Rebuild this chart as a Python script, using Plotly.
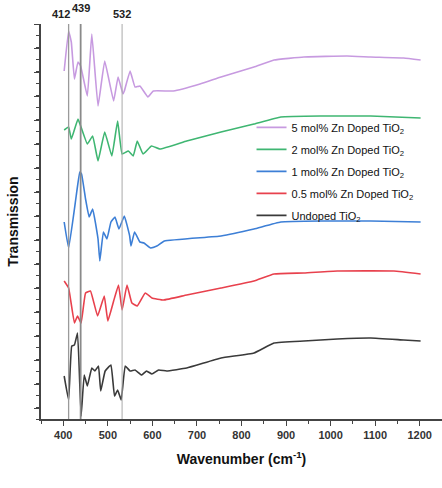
import plotly.graph_objects as go

# ---- data (arbitrary transmission units, offset stacked) ----
x_5 = [402, 412, 418, 425, 433, 439, 454, 464, 478, 493, 513, 523, 534, 537, 550, 561, 572, 590, 602, 647, 707, 754, 828, 873, 940, 1037, 1090, 1164, 1202]
y_5 = [348, 388, 377, 340, 357, 353, 323, 385, 313, 358, 318, 342, 325, 328, 348, 332, 333, 322, 328, 328, 335, 342, 352, 359, 362, 363, 362, 361, 359]

x_2 = [402, 412, 418, 433, 439, 454, 466, 478, 493, 509, 522, 532, 546, 557, 566, 579, 598, 617, 677, 754, 828, 888, 977, 1090, 1202]
y_2 = [289, 292, 280, 300, 293, 275, 283, 258, 287, 263, 298, 265, 268, 263, 278, 265, 273, 270, 278, 287, 295, 302, 303, 303, 301]

x_1 = [402, 412, 429, 437, 441, 450, 458, 466, 478, 482, 490, 498, 507, 516, 525, 537, 549, 552, 560, 572, 581, 596, 610, 627, 754, 828, 888, 977, 1090, 1202]
y_1 = [197, 171, 223, 247, 245, 220, 202, 210, 180, 158, 187, 180, 197, 202, 190, 203, 183, 173, 187, 177, 176, 171, 173, 178, 183, 190, 197, 198, 198, 197]

x_05 = [402, 412, 425, 432, 440, 450, 461, 477, 492, 500, 513, 524, 532, 543, 554, 566, 584, 599, 625, 677, 754, 828, 873, 940, 1015, 1142, 1202]
y_05 = [138, 131, 96, 103, 96, 126, 128, 103, 123, 98, 118, 134, 109, 134, 116, 113, 126, 121, 119, 124, 131, 138, 145, 146, 148, 148, 145]

x_0 = [402, 412, 419, 425, 432, 440, 447, 454, 464, 471, 479, 484, 494, 507, 515, 522, 530, 539, 550, 561, 576, 587, 599, 614, 632, 677, 754, 828, 873, 940, 1015, 1090, 1164, 1202]
y_0 = [43, 19, 73, 74, 86, 3, 44, 33, 51, 48, 53, 28, 48, 54, 23, 29, 19, 53, 48, 49, 44, 48, 45, 49, 48, 51, 61, 66, 76, 78, 80, 81, 79, 78]

series_names = ["5 mol% Zn Doped TiO<sub>2</sub>", "2 mol% Zn Doped TiO<sub>2</sub>",
                "1 mol% Zn Doped TiO<sub>2</sub>", "0.5 mol% Zn Doped TiO<sub>2</sub>",
                "Undoped TiO<sub>2</sub>"]
series_colors = ["#c79ae0", "#3fb672", "#3d7fd6", "#e8414d", "#3a3a3a"]

peaks = [412, 439, 532]
peak_labels = ["412", "439", "532"]

xs = [x_5, x_2, x_1, x_05, x_0]
ys = [y_5, y_2, y_1, y_05, y_0]

fig = go.Figure()
for i, (xv, yv, nm, col) in enumerate(zip(xs, ys, series_names, series_colors)):
    fig.add_trace(go.Scatter(x=xv, y=yv, mode="lines", name=nm, legendgroup=f"g{i}",
                             line=dict(color=col, width=1.6, shape="spline", smoothing=0.3)))

# vertical reference lines
for p, w, c in zip(peaks, [1.3, 1.8, 1.0], ["#9a9a9a", "#8a8a8a", "#aaaaaa"]):
    fig.add_shape(type="line", xref="x", yref="paper", x0=p, x1=p, y0=0, y1=1,
                  line=dict(color=c, width=w), layer="above")

ann_shift = [(-8, 2), (0, 8), (0, 2)]
for p, lab, (dx, dy) in zip(peaks, peak_labels, ann_shift):
    fig.add_annotation(x=p, y=1, xref="x", yref="paper", text=lab, showarrow=False,
                       xanchor="center", yanchor="bottom", xshift=dx, yshift=dy,
                       font=dict(family="Arial, Liberation Sans", size=11, color="#222", weight="bold"))

fig.update_layout(
    width=442, height=488,
    margin=dict(l=41, r=0, t=24, b=69),
    paper_bgcolor="white", plot_bgcolor="white",
    showlegend=True,
    legend=dict(x=0.525, y=0.775, xanchor="left", yanchor="top",
                bgcolor="rgba(0,0,0,0)", font=dict(family="Arial, Liberation Sans", size=11, color="#111"),
                tracegroupgap=3, itemwidth=30, traceorder="grouped"),
    font=dict(family="Arial, Liberation Sans"),
)

fig.update_xaxes(range=[350, 1250], tickmode="linear", tick0=400, dtick=100,
                 showline=True, linecolor="#444", linewidth=1.5, mirror=False,
                 ticks="outside", ticklen=5, tickcolor="#444", tickwidth=1.2,
                 minor=dict(dtick=50, ticks="outside", ticklen=3, tickcolor="#444"),
                 showgrid=False, zeroline=False,
                 tickfont=dict(size=11, color="#333", weight="bold"),
                 title=dict(text="Wavenumber (cm<sup>-1</sup>)", standoff=14,
                            font=dict(size=14, color="#111", weight="bold")))
fig.update_yaxes(range=[0, 395], tickmode="linear", tick0=11, dtick=24,
                 showline=True, linecolor="#444", linewidth=1.5,
                 ticks="outside", ticklen=5, tickcolor="#444", tickwidth=1.2,
                 minor=dict(dtick=12, ticks="outside", ticklen=3, tickcolor="#444"),
                 showticklabels=False, showgrid=False, zeroline=False,
                 title=dict(text="Transmission", standoff=12,
                            font=dict(size=14, color="#111", weight="bold")))

fig.write_html("out.html")
